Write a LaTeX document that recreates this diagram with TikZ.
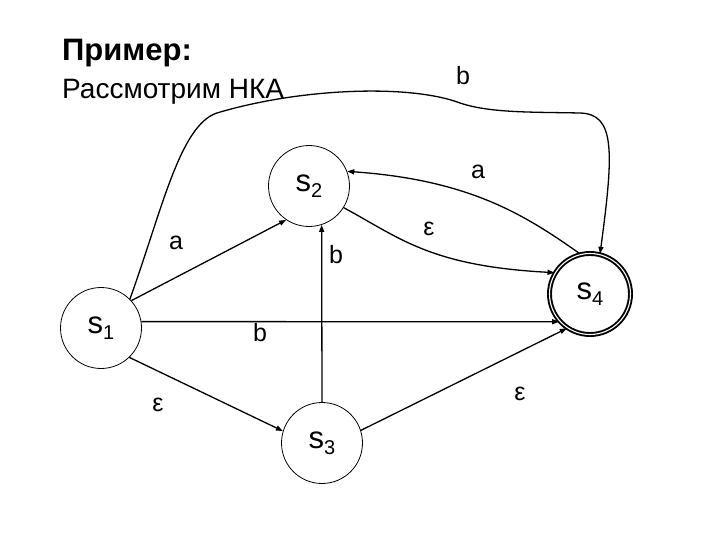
\documentclass[tikz,border=0pt]{standalone}
\usepackage{fontspec}
\setmainfont{Liberation Sans}
\usetikzlibrary{arrows.meta}
\newcommand{\sub}[1]{\raisebox{-6pt}{\fontsize{20}{20}\selectfont #1}}
\tikzset{
  >={Triangle[length=7pt,width=5pt]},
  state/.style={circle,draw,line width=0.8pt,minimum size=81pt,inner sep=0pt,
    font=\fontsize{31}{31}\selectfont},
  final/.style={state,line width=1.9pt,double,double distance=1.1pt,minimum size=81pt},
  edge/.style={->,line width=1.3pt},
  lbl/.style={font=\fontsize{25}{25}\selectfont,inner sep=1pt},
  title/.style={anchor=base west,inner sep=0pt},
}
\begin{document}
\begin{tikzpicture}[x=1pt,y=-1pt]
  \useasboundingbox (0,0) rectangle (720,540);
  \node[title,font=\fontsize{31}{31}\selectfont\bfseries] (ttl) at (62,61) {Пример:};
  \node[title,font=\fontsize{28}{28}\selectfont] (sub) at (62,99) {Рассмотрим НКА};
  % states
  \node[state] (s1) at (101,328) {s\sub{1}};
  \node[state] (s2) at (309,186) {s\sub{2}};
  \node[state] (s3) at (322,443) {s\sub{3}};
  \node[final] (s4) at (590,294) {s\sub{4}};
  % transitions
  \draw[edge] (s1.42) -- (s2.236);
  \draw[edge] (s3.north) -- (s2.288);
  \draw[edge] (s1.9) -- (s4.222);
  \draw[edge] (s1.314) -- (s3.163);
  \draw[edge] (s3.18) -- (s4.236);
  \draw[edge] (s2.328) .. controls (400,238) and (430,266) .. (s4.149);
  \draw[edge] (s4.104) .. controls (525,215) and (470,180) .. (s2.21);
  \draw[edge] (s1.45) .. controls (162,210) and (180,125) .. (217,113)
    .. controls (300,88) and (410,84) .. (460,103)
    .. controls (490,113) and (530,112) .. (580,113)
    .. controls (615,114) and (614,150) .. (s4.76);
  % labels
  \node[lbl] (lb1) at (463,76) {b};
  \node[lbl] (la1) at (478,172) {a};
  \node[lbl] (le1) at (429,229) {ε};
  \node[lbl] (la2) at (176,243) {a};
  \node[lbl] (lb2) at (336,255) {b};
  \node[lbl] (lb3) at (260,333) {b};
  \node[lbl] (le2) at (158,405) {ε};
  \node[lbl] (le3) at (520,394) {ε};
\end{tikzpicture}
\end{document}
